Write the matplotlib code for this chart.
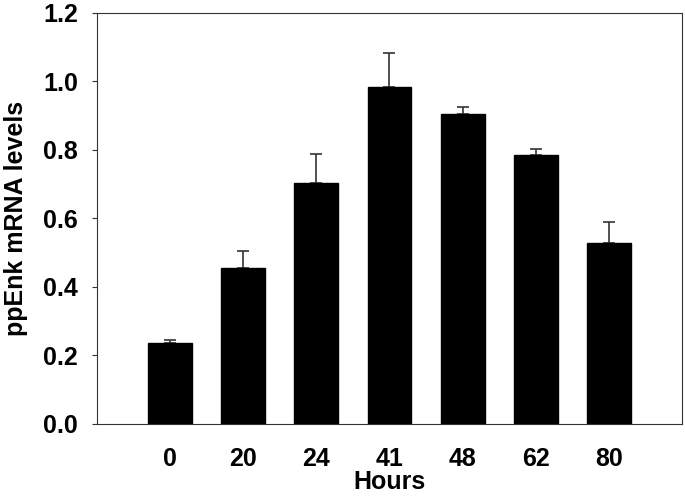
import matplotlib
matplotlib.use("Agg")
import matplotlib.pyplot as plt
import numpy as np

categories = ["0", "20", "24", "41", "48", "62", "80"]
values = [0.236, 0.456, 0.705, 0.985, 0.905, 0.785, 0.527]
errors = [0.010, 0.050, 0.082, 0.097, 0.020, 0.018, 0.064]
ytick_vals = [0.0, 0.2, 0.4, 0.6, 0.8, 1.0, 1.2]

plt.rcParams['font.family'] = ['Liberation Sans', 'DejaVu Sans']
plt.rcParams['font.weight'] = 'bold'

fig = plt.figure(figsize=(6.85, 4.98), dpi=100)
ax = fig.add_axes([0.1416, 0.1486, 0.8540, 0.8253])

x = np.arange(len(categories))
ax.bar(x, values, width=0.6, color='black', edgecolor='black', zorder=2)
yerr = [np.zeros(len(errors)), errors]
ax.errorbar(x, values, yerr=yerr, fmt='none', ecolor='#333333',
            elinewidth=1.2, capsize=4.3, capthick=1.2, zorder=1)

ax.set_xlim(-1, 7)
ax.set_ylim(0, 1.2)
ax.set_xticks(x)
ax.set_xticklabels(categories)
ax.set_yticks(ytick_vals)
ax.set_yticklabels([f"{v:.1f}" for v in ytick_vals])

ax.tick_params(axis='x', length=0, pad=16.5, labelsize=18)
ax.tick_params(axis='y', length=3.6, width=0.8, direction='out', pad=10,
               labelsize=18, color='#333333')
for lab in ax.get_xticklabels() + ax.get_yticklabels():
    lab.set_fontweight('bold')

for s in ax.spines.values():
    s.set_linewidth(0.8)
    s.set_color('#333333')

ax.set_xlabel("Hours", fontsize=18, fontweight='bold')
ax.set_ylabel("ppEnk mRNA levels", fontsize=18, fontweight='bold')
ax.xaxis.set_label_coords(0.5, -0.113)
ax.yaxis.set_label_coords(-0.118, 0.5)

fig.savefig("out.png", dpi=100)
